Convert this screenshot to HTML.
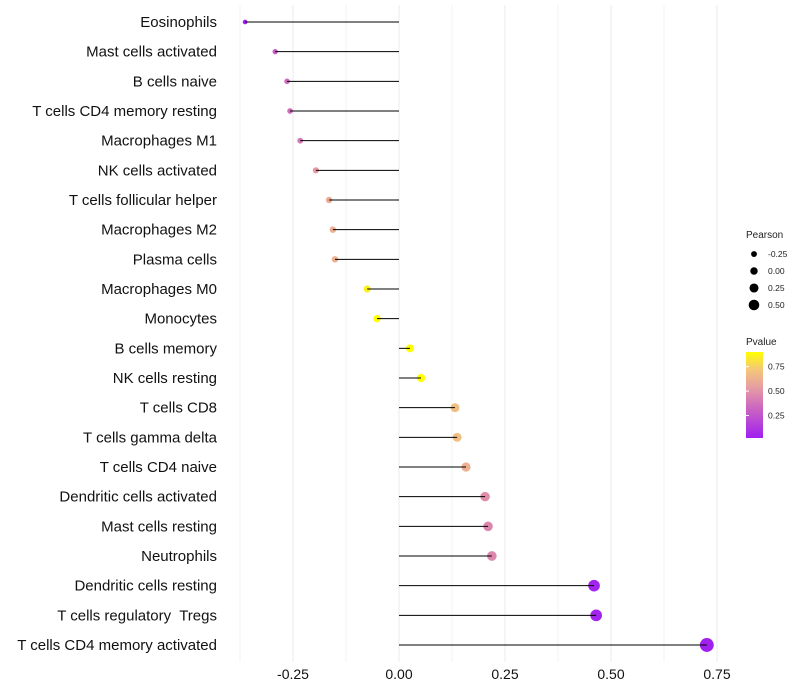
<!DOCTYPE html>
<html><head><meta charset="utf-8">
<style>
html,body{margin:0;padding:0;background:#fff;}
svg{display:block;font-family:"Liberation Sans",sans-serif;}
</style></head>
<body>
<svg id="chart" width="800" height="700" viewBox="0 0 800 700">
<defs>
<linearGradient id="pgrad" x1="0" y1="1" x2="0" y2="0">
<stop offset="0" stop-color="#a020f0"/>
<stop offset="0.35" stop-color="#cc66c0"/>
<stop offset="0.6" stop-color="#e8a0a0"/>
<stop offset="0.8" stop-color="#f4c878"/>
<stop offset="1" stop-color="#ffff00"/>
</linearGradient>
</defs>
<g id="grid"></g>
<g id="marks"></g>
<g id="ylabels"></g>
<g id="xlabels"></g>
<g>
<text x="746" y="238" font-size="10" fill="#222">Pearson</text>
<g id="sizeLegend"></g>
</g>
<g>
<text x="746" y="345" font-size="10" fill="#222">Pvalue</text>
<rect x="746" y="352" width="17" height="86" fill="url(#pgrad)"/>
<g id="colorLegend"></g>
</g>
</svg>
<script>
const categories = ["Eosinophils","Mast cells activated","B cells naive","T cells CD4 memory resting","Macrophages M1","NK cells activated","T cells follicular helper","Macrophages M2","Plasma cells","Macrophages M0","Monocytes","B cells memory","NK cells resting","T cells CD8","T cells gamma delta","T cells CD4 naive","Dendritic cells activated","Mast cells resting","Neutrophils","Dendritic cells resting","T cells regulatory  Tregs","T cells CD4 memory activated"];
const pearson = [-0.363,-0.292,-0.264,-0.257,-0.233,-0.196,-0.165,-0.156,-0.151,-0.075,-0.052,0.026,0.052,0.132,0.137,0.158,0.203,0.210,0.219,0.460,0.465,0.726];
const pvalues = [0.03,0.28,0.34,0.36,0.40,0.52,0.60,0.62,0.62,0.85,0.90,0.97,0.93,0.68,0.68,0.62,0.48,0.45,0.45,0.04,0.04,0.02];
const xTicks = [-0.25,0,0.25,0.5,0.75];
const xTickLabels = ["-0.25","0.00","0.25","0.50","0.75"];
const sizeLegendVals = [-0.25,0,0.25,0.5];
const sizeLegendLabels = ["-0.25","0.00","0.25","0.50"];
const colorLegendVals = [0.25,0.5,0.75];
const colorLegendLabels = ["0.25","0.50","0.75"];

const NS="http://www.w3.org/2000/svg";
const x = v => 399 + v*424;
const y = i => 22 + i*(623/21);
const r = v => Math.max(1.5, 3.9 + 4.2*v);
const pMin=0.02, pMax=0.9;
const stops=[[0,[160,32,240]],[0.35,[204,102,192]],[0.6,[232,160,160]],[0.8,[244,200,120]],[1,[255,255,0]]];
function col(p){let t=(p-pMin)/(pMax-pMin);t=Math.max(0,Math.min(1,t));
 for(let k=1;k<stops.length;k++){if(t<=stops[k][0]){const a=stops[k-1],b=stops[k];const u=(t-a[0])/(b[0]-a[0]);
 const c=a[1].map((v,j)=>Math.round(v+(b[1][j]-v)*u));return `rgb(${c})`;}}return "rgb(255,255,0)";}
function mk(tag,attrs,parent){const e=document.createElementNS(NS,tag);for(const k in attrs)e.setAttribute(k,attrs[k]);parent.appendChild(e);return e;}

const grid=document.getElementById('grid');
for(let v=-0.375; v<=0.751; v+=0.125){
 const g=mk('line',{x1:x(v),x2:x(v),y1:5,y2:662,stroke:'#ebebeb','stroke-width':Math.abs((v*4)%1)<0.01?1:0.6},grid);
 
 
}
const marks=document.getElementById('marks');
const yl=document.getElementById('ylabels');
categories.forEach((c,i)=>{
 const d=mk('circle',{cx:x(pearson[i]),cy:y(i),r:r(pearson[i]),fill:col(pvalues[i])},marks);
 
 
 const l=mk('line',{x1:x(0),x2:x(pearson[i]),y1:y(i),y2:y(i),stroke:'#000','stroke-width':1},marks);
 
 
 const t=mk('text',{x:217,y:y(i)+5,'text-anchor':'end','font-size':15,fill:'#111','xml:space':'preserve'},yl);
 t.style.whiteSpace='pre';
 t.textContent=c;
 
 
});
const xl=document.getElementById('xlabels');
xTicks.forEach((v,i)=>{
 const t=mk('text',{x:x(v),y:679,'text-anchor':'middle','font-size':14,fill:'#111'},xl);
 t.textContent=xTickLabels[i];
 
 
});
const sl=document.getElementById('sizeLegend');
sizeLegendVals.forEach((v,i)=>{
 const cy=254+i*17;
 const c=mk('circle',{cx:754,cy:cy,r:r(v)*0.75+0.8,fill:'#000'},sl);
 
 
 const t=mk('text',{x:768,y:cy+3,'font-size':8.5,fill:'#222'},sl);
 t.textContent=sizeLegendLabels[i];
 
 
});
const cl=document.getElementById('colorLegend');
colorLegendVals.forEach((v,i)=>{
 const cy=438-(v-pMin)/(pMax-pMin)*86;
 const tk=mk('line',{x1:746,x2:749,y1:cy,y2:cy,stroke:'#fff'},cl);
 
 
 const t=mk('text',{x:768,y:cy+3,'font-size':8.5,fill:'#222'},cl);
 t.textContent=colorLegendLabels[i];
 
 
});
</script>
</body></html>
